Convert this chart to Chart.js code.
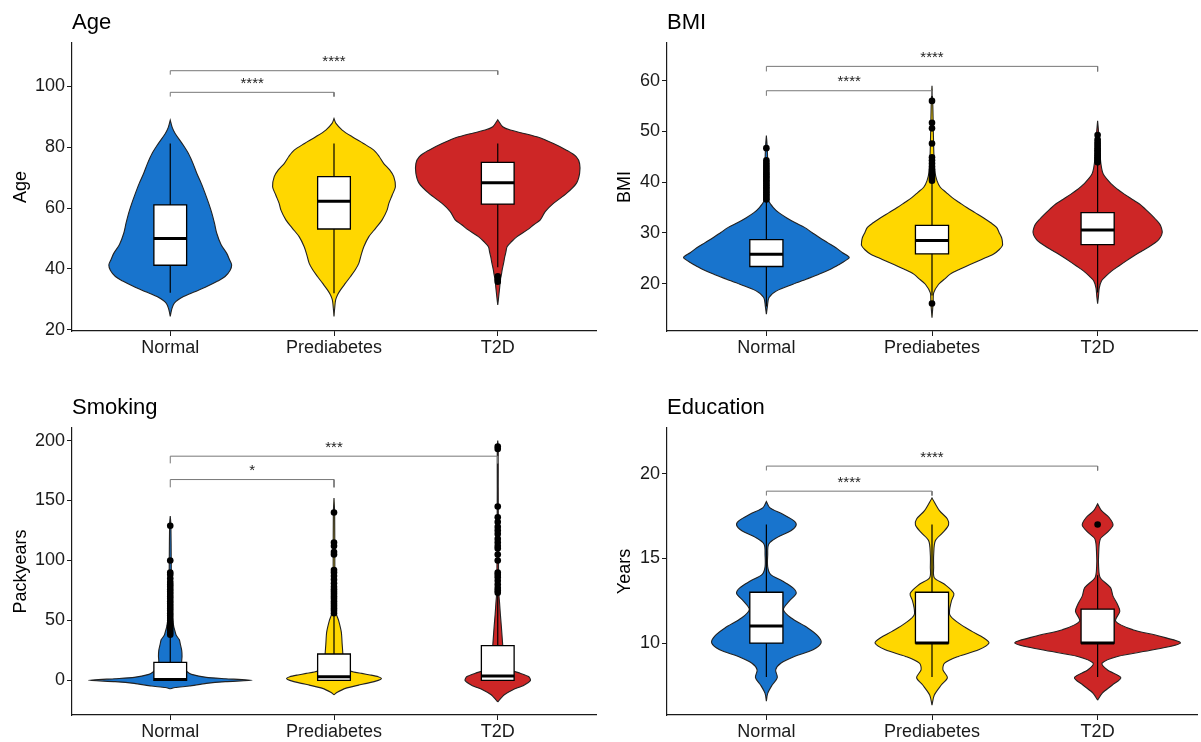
<!DOCTYPE html>
<html>
<head>
<meta charset="utf-8">
<script src="https://cdn.jsdelivr.net/npm/chart.js@4.4.1/dist/chart.umd.min.js"></script>
<style>
  html, body { margin: 0; padding: 0; background: #fff; }
  #wrap { position: relative; width: 1201px; height: 742px; overflow: hidden; }
  canvas { position: absolute; display: block; }
</style>
</head>
<body>
<div id="wrap">
  <canvas id="cAge" width="600" height="371" style="left:0;top:0"></canvas>
  <canvas id="cBmi" width="601" height="371" style="left:600px;top:0"></canvas>
  <canvas id="cSmk" width="600" height="371" style="left:0;top:371px"></canvas>
  <canvas id="cEdu" width="601" height="371" style="left:600px;top:371px"></canvas>
</div>
<script>
// ---- groups and colours ----
const groups = ['Normal', 'Prediabetes', 'T2D'];
const fills = ['#1874CD', '#FFD700', '#CD2626'];

// ---- Age: violin outlines (value, half width in category units) ----
const ageTicks = [20, 40, 60, 80, 100];
const ageNormalY = [24.4, 26.5, 28.7, 30.9, 32.5, 34.2, 36, 37.5, 39.5, 41.3, 43, 45.1, 48, 51.7, 55, 58.3, 61.5, 64.8, 68, 71.4, 74.5, 77.9, 81, 84.5, 86.5, 88.9];
const ageNormalW = [0, 0.008, 0.024, 0.081, 0.15, 0.223, 0.29, 0.335, 0.365, 0.375, 0.362, 0.345, 0.31, 0.284, 0.27, 0.254, 0.235, 0.213, 0.19, 0.162, 0.14, 0.111, 0.075, 0.03, 0.012, 0];
const agePreY = [24.4, 27, 29.8, 31.5, 33.1, 35.3, 37.5, 39.7, 41.9, 44.6, 47.3, 50.6, 53.4, 56.1, 59.3, 61.5, 64.2, 67, 70.3, 72.5, 74.6, 77, 79, 81.2, 83.4, 85.6, 87.8, 89.4];
const agePreW = [0, 0.004, 0.01, 0.022, 0.04, 0.07, 0.101, 0.13, 0.152, 0.166, 0.182, 0.213, 0.255, 0.294, 0.324, 0.335, 0.355, 0.375, 0.365, 0.34, 0.304, 0.275, 0.243, 0.18, 0.111, 0.05, 0.012, 0];
const ageT2DY = [28.2, 30, 32, 34, 36.4, 38, 39.7, 42, 44, 45.6, 47.3, 49, 50.6, 52.8, 54.5, 56.1, 58.8, 61.5, 64.8, 68.1, 71.4, 74.6, 76.8, 79, 81.2, 83.4, 85.6, 86.7, 89];
const ageT2DW = [0, 0.004, 0.008, 0.012, 0.016, 0.022, 0.027, 0.036, 0.043, 0.05, 0.057, 0.085, 0.118, 0.18, 0.22, 0.26, 0.29, 0.34, 0.42, 0.48, 0.5, 0.5, 0.48, 0.42, 0.34, 0.239, 0.077, 0.03, 0];
// whisker low, Q1, median, Q3, whisker high
const ageBoxes = [[32.2, 41.2, 50, 61, 81.2], [32, 53.1, 62.2, 70.3, 81.2], [40.5, 61.3, 68.3, 75, 81.2]];
const ageOutliers = [[], [], [37.6, 36.6, 35.8]];
const ageBrackets = [
  { from: 1, to: 2, bar: 98, tip: 96.6, label: '****' },
  { from: 1, to: 3, bar: 105.1, tip: 103.8, label: '****' }
];

// ---- BMI ----
const bmiTicks = [20, 30, 40, 50, 60];
const bmiNormalY = [14, 15.5, 17.3, 18.6, 19.9, 20.9, 21.9, 22.9, 23.8, 24.5, 25.2, 26.1, 27.1, 28.1, 29.1, 30.1, 31.1, 32, 33, 34, 35, 36.3, 38, 41, 44, 47, 49.2];
const bmiNormalW = [0, 0.006, 0.016, 0.062, 0.16, 0.24, 0.32, 0.39, 0.44, 0.475, 0.5, 0.46, 0.42, 0.37, 0.32, 0.275, 0.23, 0.175, 0.121, 0.075, 0.042, 0.015, 0.012, 0.01, 0.008, 0.005, 0];
const bmiPreY = [13.3, 15, 16.5, 18.2, 19.9, 20.9, 21.9, 22.9, 23.8, 24.8, 25.8, 26.7, 27.5, 28.3, 29.1, 30.1, 31.1, 32, 33, 34, 35, 36, 37, 38, 39, 40.3, 42, 45, 50, 55, 59];
const bmiPreW = [0, 0.004, 0.007, 0.01, 0.04, 0.075, 0.11, 0.17, 0.23, 0.3, 0.37, 0.405, 0.425, 0.425, 0.42, 0.405, 0.39, 0.355, 0.31, 0.26, 0.21, 0.165, 0.12, 0.085, 0.05, 0.03, 0.018, 0.012, 0.008, 0.005, 0];
const bmiT2DY = [16.1, 17.5, 19.2, 20.6, 21.5, 22.5, 23.5, 24.5, 25.5, 26.5, 27.5, 28.4, 29.2, 30.1, 30.9, 31.7, 32.7, 33.7, 34.7, 35.7, 36.6, 37.6, 38.6, 39.6, 41.6, 43.6, 46, 49, 52.1];
const bmiT2DW = [0, 0.005, 0.01, 0.024, 0.05, 0.084, 0.128, 0.173, 0.22, 0.27, 0.32, 0.36, 0.38, 0.39, 0.386, 0.376, 0.35, 0.32, 0.288, 0.253, 0.21, 0.163, 0.12, 0.084, 0.034, 0.02, 0.014, 0.008, 0];
const bmiBoxes = [[15.5, 23.4, 25.8, 28.7, 36.4], [17.7, 25.9, 28.5, 31.5, 40.1], [18.3, 27.7, 30.6, 34, 43.4]];
const bmiOutliers = [
  [36.6, 36.9, 37.3, 37.6, 38, 38.3, 38.7, 39, 39.4, 39.7, 40.1, 40.4, 40.8, 41.1, 41.5, 41.8, 42.2, 42.6, 43, 43.4, 43.8, 44.3, 46.7],
  [16.1, 40.3, 40.7, 41.1, 41.5, 42, 42.5, 43.1, 43.7, 44.3, 44.9, 47.6, 50.6, 51.7, 56],
  [43.9, 44.2, 44.6, 44.9, 45.3, 45.6, 46, 46.3, 46.7, 47.1, 47.5, 47.9, 48.4, 49.3]
];
const bmiBrackets = [
  { from: 1, to: 2, bar: 58, tip: 57, label: '****' },
  { from: 1, to: 3, bar: 62.8, tip: 61.8, label: '****' }
];

// ---- Smoking (pack-years) ----
const smkTicks = [0, 50, 100, 150, 200];
const smkNormalY = [-7, -6, -4.7, -2.5, -1.1, 0, 1.4, 2.5, 5, 7, 10, 15, 20, 25, 30, 34, 38, 50, 70, 100, 130, 137];
const smkNormalW = [0, 0.03, 0.116, 0.22, 0.337, 0.5, 0.337, 0.22, 0.13, 0.105, 0.085, 0.07, 0.072, 0.07, 0.062, 0.055, 0.035, 0.015, 0.008, 0.006, 0.004, 0];
const smkPreY = [-12, -10, -6.7, -4, -2.5, 0, 1.5, 3, 4.5, 5.8, 7, 8.6, 11, 14, 20, 30, 40, 50, 55, 70, 100, 140, 152];
const smkPreW = [0, 0.02, 0.07, 0.15, 0.2, 0.27, 0.29, 0.27, 0.22, 0.17, 0.12, 0.08, 0.065, 0.055, 0.055, 0.05, 0.045, 0.028, 0.015, 0.006, 0.005, 0.004, 0];
const smkT2DY = [-18, -16, -12, -8, -4, 0, 3, 5.8, 9, 12, 18, 30, 45, 55, 65, 72, 90, 120, 160, 195, 200];
const smkT2DW = [0, 0.012, 0.04, 0.09, 0.16, 0.2, 0.19, 0.14, 0.07, 0.045, 0.037, 0.03, 0.022, 0.016, 0.011, 0.007, 0.005, 0.004, 0.003, 0.003, 0];
const smkBoxes = [[0, 0, 0.8, 15, 37], [0, 0, 3, 22, 55], [0, 0, 3.6, 29, 72]];
const smkOutliers = [
  [38, 40, 42, 44, 46, 48, 50, 52, 54, 56, 58, 60, 62, 64, 66, 68, 70, 72, 74, 76, 78, 80, 82, 85, 88, 90, 100, 129],
  [56, 58, 60, 62, 64, 66, 68, 70, 72, 74, 76, 78, 81, 84, 87, 90, 92, 105, 107, 112, 115, 140],
  [73, 75, 77, 80, 83, 86, 88, 90, 100, 105, 110, 112, 115, 118, 122, 125, 128, 132, 136, 145, 193, 195]
];
const smkBrackets = [
  { from: 1, to: 2, bar: 167.5, tip: 161, label: '*' },
  { from: 1, to: 3, bar: 187, tip: 181, label: '***' }
];

// ---- Education (years) ----
const eduTicks = [10, 15, 20];
const eduNormalY = [6.57, 7.03, 7.52, 7.96, 8.42, 8.81, 9.21, 9.6, 10, 10.4, 10.89, 11.49, 11.98, 12.48, 12.93, 13.27, 13.66, 14.06, 14.5, 15.2, 15.84, 16.24, 16.63, 16.97, 17.23, 17.62, 18, 18.36];
const eduNormalW = [0, 0.008, 0.035, 0.066, 0.056, 0.087, 0.169, 0.282, 0.33, 0.313, 0.25, 0.148, 0.103, 0.138, 0.18, 0.159, 0.097, 0.025, 0.008, 0.008, 0.014, 0.066, 0.148, 0.18, 0.165, 0.097, 0.02, 0];
const eduPreY = [6.34, 6.93, 7.52, 7.96, 8.42, 8.81, 9.21, 9.6, 10, 10.3, 10.69, 11.19, 11.68, 12.48, 12.93, 13.47, 13.86, 14.5, 15.2, 16.04, 16.53, 16.97, 17.33, 17.82, 18.57];
const eduPreW = [0, 0.014, 0.056, 0.093, 0.066, 0.076, 0.159, 0.282, 0.344, 0.313, 0.241, 0.159, 0.107, 0.117, 0.132, 0.076, 0.014, 0.01, 0.01, 0.02, 0.066, 0.1, 0.093, 0.045, 0];
const eduT2DY = [6.63, 7.03, 7.52, 7.96, 8.42, 8.81, 9.21, 9.6, 10, 10.4, 10.79, 11.29, 11.88, 12.28, 12.77, 13.27, 13.86, 14.5, 15.2, 16.14, 16.53, 16.97, 17.43, 17.8, 18.22];
const eduT2DW = [0, 0.027, 0.089, 0.14, 0.058, 0.027, 0.12, 0.336, 0.5, 0.377, 0.212, 0.109, 0.134, 0.12, 0.093, 0.078, 0.016, 0.006, 0.006, 0.016, 0.058, 0.093, 0.068, 0.025, 0];
const eduBoxes = [[8, 10, 11, 13, 17], [8, 10, 10, 13, 17], [8, 10, 10, 12, 14]];
const eduOutliers = [[], [], [17]];
const eduBrackets = [
  { from: 1, to: 2, bar: 18.97, tip: 18.71, label: '****' },
  { from: 1, to: 3, bar: 20.45, tip: 20.19, label: '****' }
];

// ---- drawing helpers ----
const FONT = '"Liberation Sans", Arial, Helvetica, sans-serif';
Chart.defaults.font.family = FONT;
const INK = '#1a1a1a';

// closed outline: up the right edge, back down the left edge
function violinPoints(center, ys, ws) {
  const right = ys.map((y, i) => ({ x: center + ws[i], y }));
  const left = ys.map((y, i) => ({ x: center - ws[i], y })).reverse();
  return right.concat(left);
}

function buildDatasets(p) {
  const ds = [];
  p.violins.forEach(([ys, ws], g) => {
    ds.push({
      data: violinPoints(g + 1, ys, ws), backgroundColor: fills[g], borderColor: '#222',
      borderWidth: 1.1, fill: 'shape', tension: p.tension, pointRadius: 0, order: 6
    });
  });
  const h = 0.1;
  p.boxes.forEach(([lo, q1, med, q3, hi], g) => {
    const c = g + 1;
    ds.push({ data: [{ x: c, y: lo }, { x: c, y: hi }], borderColor: '#000', borderWidth: 1.2,
      pointRadius: 0, fill: false, order: 5 });
    ds.push({ data: [{ x: c - h, y: q1 }, { x: c + h, y: q1 }, { x: c + h, y: q3 }, { x: c - h, y: q3 }, { x: c - h, y: q1 }, { x: c + h, y: q1 }],
      backgroundColor: '#fff', borderColor: '#000', borderWidth: 1.3, fill: 'shape', tension: 0,
      pointRadius: 0, order: 4 });
    ds.push({ data: [{ x: c - h, y: med }, { x: c + h, y: med }], borderColor: '#000', borderWidth: 3,
      borderCapStyle: 'butt', pointRadius: 0, fill: false, order: 3 });
  });
  p.outliers.forEach((vals, g) => {
    ds.push({ data: vals.map(y => ({ x: g + 1, y })), showLine: false, pointRadius: 3.3,
      pointBackgroundColor: '#000', pointBorderColor: '#000', pointBorderWidth: 0, order: 2 });
  });
  p.brackets.forEach(b => {
    ds.push({ data: [{ x: b.from, y: b.tip }, { x: b.from, y: b.bar }, { x: b.to, y: b.bar }, { x: b.to, y: b.tip }],
      borderColor: '#777', borderWidth: 1, pointRadius: 0, fill: false, order: 1 });
  });
  return ds;
}

// panel title and significance stars
const panelText = {
  id: 'panelText',
  afterDraw(chart, args, opts) {
    const { ctx, chartArea, scales } = chart;
    ctx.save();
    ctx.fillStyle = '#000';
    ctx.textBaseline = 'alphabetic';
    ctx.textAlign = 'left';
    ctx.font = '22px ' + FONT;
    ctx.fillText(opts.title, chartArea.left, chartArea.top - 14);
    ctx.font = '15px ' + FONT;
    ctx.textAlign = 'center';
    ctx.fillStyle = '#222';
    opts.brackets.forEach(b => {
      const x = scales.x.getPixelForValue((b.from + b.to) / 2);
      const y = scales.y.getPixelForValue(b.bar) - 4.5;
      ctx.fillText(b.label, x, y);
    });
    ctx.restore();
  }
};

function makeChart(id, p) {
  new Chart(document.getElementById(id), {
    type: 'line',
    data: { datasets: buildDatasets(p) },
    options: {
      responsive: false, animation: false, devicePixelRatio: 1,
      events: [],
      layout: { padding: { left: 0, right: p.padRight, top: p.padTop, bottom: 0 } },
      plugins: {
        legend: { display: false }, tooltip: { enabled: false }, title: { display: false },
        panelText: { title: p.title, brackets: p.brackets }
      },
      scales: {
        x: {
          type: 'linear', min: 0.4, max: 3.6,
          afterBuildTicks: s => { s.ticks = groups.map((g, i) => ({ value: i + 1 })); },
          afterFit: s => { s.height = p.xHeight; },
          ticks: { callback: v => groups[Math.round(v) - 1], color: INK, font: { size: 18 }, padding: 1, maxRotation: 0, autoSkip: false },
          grid: { drawOnChartArea: false, drawTicks: true, tickLength: 5, tickColor: INK, tickWidth: 1 },
          border: { display: true, color: INK, width: 1.2 }
        },
        y: {
          type: 'linear', min: p.yMin, max: p.yMax,
          afterBuildTicks: s => { s.ticks = p.ticks.map(v => ({ value: v })); },
          afterFit: s => { s.width = p.yWidth; },
          ticks: { callback: v => String(v), color: INK, font: { size: 18 }, padding: 2 },
          grid: { drawOnChartArea: false, drawTicks: true, tickLength: 5, tickColor: INK, tickWidth: 1 },
          border: { display: true, color: INK, width: 1.2 },
          title: { display: true, text: p.yTitle, color: '#000', font: { size: 18 }, padding: { top: p.yTitlePad, bottom: 0 } }
        }
      }
    },
    plugins: [panelText]
  });
}

makeChart('cAge', {
  title: 'Age', yTitle: 'Age', ticks: ageTicks, yMin: 19.6, yMax: 114.2, tension: 0.3,
  violins: [[ageNormalY, ageNormalW], [agePreY, agePreW], [ageT2DY, ageT2DW]],
  boxes: ageBoxes, outliers: ageOutliers, brackets: ageBrackets,
  padTop: 43, padRight: 2, yWidth: 72, xHeight: 40, yTitlePad: 10
});
makeChart('cBmi', {
  title: 'BMI', yTitle: 'BMI', ticks: bmiTicks, yMin: 10.7, yMax: 67.4, tension: 0.3,
  violins: [[bmiNormalY, bmiNormalW], [bmiPreY, bmiPreW], [bmiT2DY, bmiT2DW]],
  boxes: bmiBoxes, outliers: bmiOutliers, brackets: bmiBrackets,
  padTop: 43, padRight: 2, yWidth: 67, xHeight: 40, yTitlePad: 14
});
makeChart('cSmk', {
  title: 'Smoking', yTitle: 'Packyears', ticks: smkTicks, yMin: -28.9, yMax: 210.5, tension: 0.2,
  violins: [[smkNormalY, smkNormalW], [smkPreY, smkPreW], [smkT2DY, smkT2DW]],
  boxes: smkBoxes, outliers: smkOutliers, brackets: smkBrackets,
  padTop: 57, padRight: 2, yWidth: 72, xHeight: 27, yTitlePad: 10
});
makeChart('cEdu', {
  title: 'Education', yTitle: 'Years', ticks: eduTicks, yMin: 5.75, yMax: 22.7, tension: 0.3,
  violins: [[eduNormalY, eduNormalW], [eduPreY, eduPreW], [eduT2DY, eduT2DW]],
  boxes: eduBoxes, outliers: eduOutliers, brackets: eduBrackets,
  padTop: 57, padRight: 2, yWidth: 67, xHeight: 27, yTitlePad: 14
});
</script>
</body>
</html>
